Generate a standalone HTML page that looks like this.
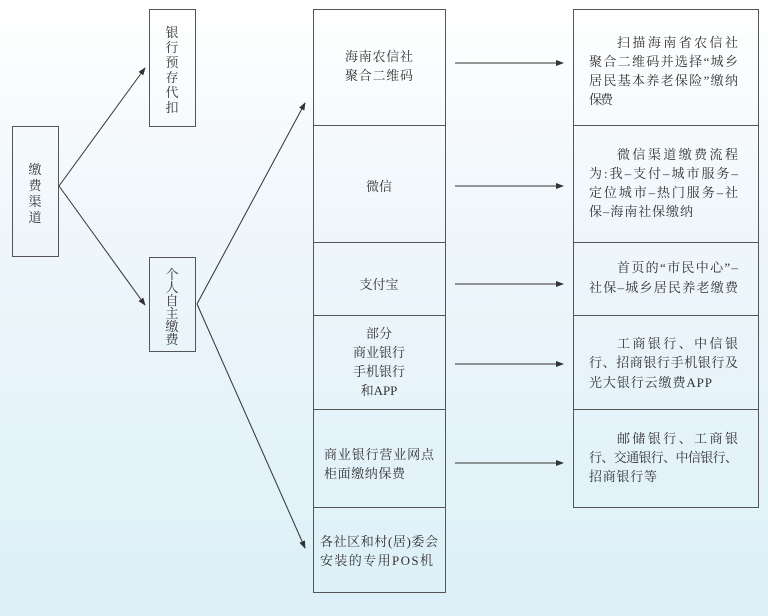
<!DOCTYPE html>
<html><head><meta charset="utf-8"><style>
html,body{margin:0;padding:0}
body{width:768px;height:616px;overflow:hidden;background:linear-gradient(#ffffff 0%,#eef6fb 40%,#dcf0f8 100%)}
svg{display:block}
text{font-family:"Liberation Serif","Noto Serif CJK SC",serif;font-size:13px;fill:#333}
</style></head><body>
<svg width="768" height="616" viewBox="0 0 768 616" xmlns="http://www.w3.org/2000/svg">
<defs><marker id="a" markerWidth="8" markerHeight="6" refX="7" refY="3" orient="auto" markerUnits="userSpaceOnUse"><path d="M0,0 L8,3 L0,6 Z" fill="#333"/></marker></defs>
<g fill="none" stroke="#555" stroke-width="1">
<rect x="12.5" y="126.5" width="46" height="130"/>
<rect x="149.5" y="9.5" width="46" height="117"/>
<rect x="149.5" y="257.5" width="46" height="94"/>
<rect x="313.5" y="9.5" width="132" height="583"/>
<line x1="313" y1="125.5" x2="446" y2="125.5"/>
<line x1="313" y1="242.5" x2="446" y2="242.5"/>
<line x1="313" y1="315.5" x2="446" y2="315.5"/>
<line x1="313" y1="409.5" x2="446" y2="409.5"/>
<line x1="313" y1="507.5" x2="446" y2="507.5"/>
<rect x="573.5" y="9.5" width="185" height="498"/>
<line x1="573" y1="125.5" x2="759" y2="125.5"/>
<line x1="573" y1="242.5" x2="759" y2="242.5"/>
<line x1="573" y1="315.5" x2="759" y2="315.5"/>
<line x1="573" y1="409.5" x2="759" y2="409.5"/>
</g>
<g stroke="#333" stroke-width="1" marker-end="url(#a)">
<line x1="59" y1="186" x2="145" y2="68"/>
<line x1="59" y1="186" x2="145" y2="305"/>
<line x1="197" y1="304" x2="305" y2="103"/>
<line x1="197" y1="304" x2="305" y2="548"/>
<line x1="455" y1="63" x2="563" y2="63"/>
<line x1="455" y1="186" x2="563" y2="186"/>
<line x1="455" y1="284" x2="563" y2="284"/>
<line x1="455" y1="364" x2="563" y2="364"/>
<line x1="455" y1="463" x2="563" y2="463"/>
</g>
<g text-anchor="middle">
<text x="35" y="174">缴</text><text x="35" y="190">费</text><text x="35" y="206">渠</text><text x="35" y="222">道</text>
<text x="172" y="37">银</text><text x="172" y="52">行</text><text x="172" y="67">预</text><text x="172" y="82">存</text><text x="172" y="97">代</text><text x="172" y="112">扣</text>
<text x="172" y="279">个</text><text x="172" y="292">人</text><text x="172" y="305">自</text><text x="172" y="318">主</text><text x="172" y="331">缴</text><text x="172" y="344">费</text>
<text x="379" y="191">微信</text>
<text x="379" y="289">支付宝</text>
<text x="379" y="338">部分</text>
<text x="379" y="357">商业银行</text>
<text x="379" y="376">手机银行</text>
<text x="379" y="395">和APP</text>
</g>
<g>
<text x="345" y="61" textLength="68" lengthAdjust="spacing">海南农信社</text>
<text x="345" y="80" textLength="68" lengthAdjust="spacing">聚合二维码</text>
<text x="324" y="459" textLength="110" lengthAdjust="spacing">商业银行营业网点</text>
<text x="324" y="478" textLength="81" lengthAdjust="spacing">柜面缴纳保费</text>
<text x="320" y="546" textLength="118" lengthAdjust="spacing">各社区和村(居)委会</text>
<text x="320" y="565" textLength="113" lengthAdjust="spacing">安装的专用POS机</text>

<text x="617" y="47" textLength="121" lengthAdjust="spacing">扫描海南省农信社</text>
<text x="589" y="66" textLength="149" lengthAdjust="spacing">聚合二维码并选择“城乡</text>
<text x="589" y="85" textLength="149" lengthAdjust="spacing">居民基本养老保险”缴纳</text>
<text x="589" y="104" textLength="24" lengthAdjust="spacing">保费</text>

<text x="617" y="159" textLength="121" lengthAdjust="spacing">微信渠道缴费流程</text>
<text x="589" y="178" textLength="149" lengthAdjust="spacing">为:我–支付–城市服务–</text>
<text x="589" y="197" textLength="149" lengthAdjust="spacing">定位城市–热门服务–社</text>
<text x="589" y="216" textLength="104" lengthAdjust="spacing">保–海南社保缴纳</text>

<text x="617" y="272" textLength="121" lengthAdjust="spacing">首页的“市民中心”–</text>
<text x="589" y="292" textLength="149" lengthAdjust="spacing">社保–城乡居民养老缴费</text>

<text x="617" y="348" textLength="121" lengthAdjust="spacing">工商银行、中信银</text>
<text x="589" y="367" textLength="149" lengthAdjust="spacing">行、招商银行手机银行及</text>
<text x="589" y="387" textLength="123" lengthAdjust="spacing">光大银行云缴费APP</text>

<text x="617" y="443" textLength="121" lengthAdjust="spacing">邮储银行、工商银</text>
<text x="589" y="462" textLength="149" lengthAdjust="spacing">行、交通银行、中信银行、</text>
<text x="589" y="481" textLength="68" lengthAdjust="spacing">招商银行等</text>
</g>
</svg>
</body></html>
